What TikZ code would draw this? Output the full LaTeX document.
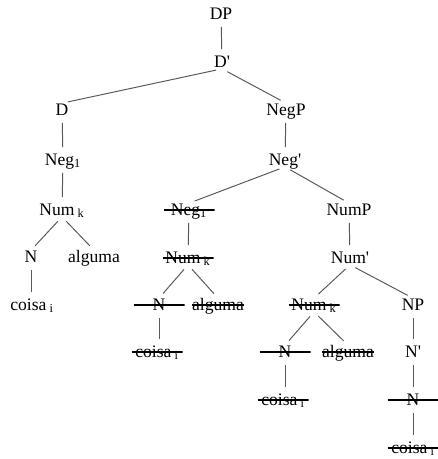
\documentclass[tikz,border=0pt]{standalone}
\usepackage{fontspec}
\setmainfont{Liberation Serif}

\begin{document}
\begin{tikzpicture}[
    cat/.style={inner xsep=1pt, inner ysep=0pt, text height=8.3pt, text depth=1pt, font=\fontsize{12.5}{14}\selectfont},
    gone/.style={cat, inner xsep=0pt, minimum width=12.75mm,
        path picture={\draw[line width=0.9pt] (path picture bounding box.west) -- (path picture bounding box.east);}},
    branch/.style={draw=black!65, line width=0.7pt, shorten <=4.3pt, shorten >=4.3pt},
    x=0.25mm, y=-0.25mm]

    \useasboundingbox (0,0) rectangle (437,459);

    % ================= spine: DP down to NegP =================
    \node[cat] (dp)    at (221, 14) {DP};
    \node[cat] (dbar)  at (222, 62) {D\textquotesingle};
    \node[cat] (d)     at (62, 110) {D};
    \node[cat] (negp)  at (286, 110) {NegP};

    \draw[branch] (dp) -- (dbar);
    \draw[branch] (dbar.south) -- (d.north);
    \draw[branch] (dbar.south) -- (negp.north);

    % ================= left: the moved head complex =================
    \node[cat] (neg1)  at (63, 160) {Neg\textsubscript{1}};
    \node[cat] (num1)  at (62, 210) {Num\textsubscript{ k}};
    \node[cat] (n1)    at (31, 257) {N};
    \node[cat] (alg1)  at (94, 257) {alguma};
    \node[cat] (coi1)  at (32, 305) {coisa\textsubscript{ i}};

    \draw[branch] (d) -- (neg1);
    \draw[branch] (neg1) -- (num1);
    \draw[branch] (num1.south) -- (n1.north);
    \draw[branch] (num1.south) -- (alg1.north);
    \draw[branch] (n1) -- (n1 |- coi1.north);

    % ================= NegP: the struck copy under Neg' =================
    \node[cat]  (negbar) at (285, 160) {Neg\textquotesingle};
    \node[gone] (neg2)   at (189, 210) {Neg\textsubscript{1}};
    \node[gone] (num2)   at (188, 258) {Num\textsubscript{ k}};
    \node[gone] (n2)     at (159, 305) {N};
    \node[gone] (alg2)   at (218, 305) {alguma};
    \node[gone] (coi2)   at (157, 352) {coisa\textsubscript{ i}};

    \draw[branch] (negp) -- (negbar);
    \draw[branch] (negbar.south) -- (neg2.north);
    \draw[branch] (neg2) -- (num2);
    \draw[branch] (num2.south) -- (n2.north);
    \draw[branch] (num2.south) -- (alg2.north);
    \draw[branch] (n2.south) -- (n2.south |- coi2.north);

    % ================= NumP: struck Num and the NP =================
    \node[cat]  (nump)   at (349, 210) {NumP};
    \node[cat]  (numbar) at (350, 258) {Num\textquotesingle};
    \node[gone] (num3)   at (314, 305) {Num\textsubscript{ k}};
    \node[gone] (n3)     at (285, 352) {N};
    \node[gone] (alg3)   at (348, 352) {alguma};
    \node[gone] (coi3)   at (283, 400) {coisa\textsubscript{ i}};

    \draw[branch] (negbar.south) -- (nump.north);
    \draw[branch] (nump) -- (numbar);
    \draw[branch] (numbar.south) -- (num3.north);
    \draw[branch] (num3.south) -- (n3.north);
    \draw[branch] (num3.south) -- (alg3.north);
    \draw[branch] (n3.south) -- (n3.south |- coi3.north);

    \node[cat]  (np)   at (413, 305) {NP};
    \node[cat]  (nbar) at (413, 352) {N\textquotesingle};
    \node[gone] (n4)   at (413, 400) {N};
    \node[gone] (coi4) at (413, 448) {coisa\textsubscript{ i}};

    \draw[branch] (numbar.south) -- (np.north);
    \draw[branch] (np) -- (nbar);
    \draw[branch] (nbar) -- (n4);
    \draw[branch] (n4) -- (coi4);
\end{tikzpicture}
\end{document}
